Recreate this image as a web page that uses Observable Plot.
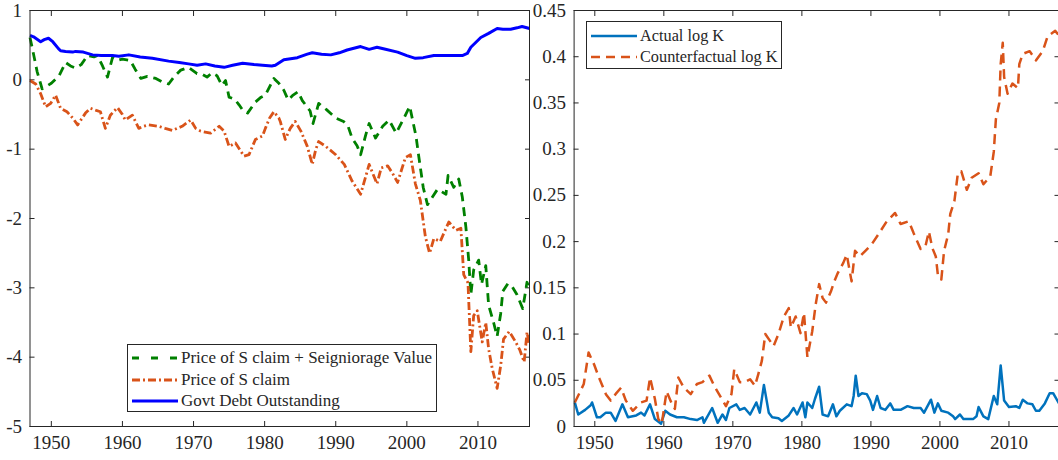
<!DOCTYPE html>
<html><head><meta charset="utf-8">
<script src="https://cdn.jsdelivr.net/npm/d3@7"></script>
<script src="https://cdn.jsdelivr.net/npm/@observablehq/plot@0.6"></script>
<style>
body{margin:0;background:#fff;}
#wrap{position:relative;width:1058px;height:460px;overflow:hidden;font-family:"Liberation Serif","Times New Roman",serif;color:#262626;background:#fff;}
.panel{position:absolute;top:0;}
.legend{position:absolute;background:#fff;border:1px solid #262626;box-sizing:border-box;font-size:17px;}
.row{position:absolute;left:0;height:22px;display:flex;align-items:center;white-space:nowrap;}
.row svg{margin-left:4px;margin-right:3px;}
</style></head><body><div id="wrap"></div>
<script>
// ---------- tick values ----------
const xTicks = [1950, 1960, 1970, 1980, 1990, 2000, 2010];
const leftYTicks = [-5, -4, -3, -2, -1, 0, 1];
const rightYTicks = [0, 0.05, 0.1, 0.15, 0.2, 0.25, 0.3, 0.35, 0.4, 0.45];

// ---------- left panel series ----------
const debtYear = [1947.0,1947.5,1948.5,1949.0,1949.6,1950.2,1951.0,1951.3,1952.0,1953.0,1953.4,1954.5,1955.8,1957.0,1958.6,1959.5,1960.9,1962.5,1964.2,1966.5,1968.0,1969.3,1970.5,1971.7,1973.0,1974.3,1975.5,1976.9,1978.5,1979.7,1981.0,1981.5,1982.7,1984.6,1986.0,1986.7,1988.0,1989.3,1990.5,1991.6,1993.5,1994.7,1995.8,1997.0,1998.7,2000.0,2001.2,2002.3,2003.8,2005.0,2006.2,2007.8,2008.5,2009.0,2010.4,2011.5,2012.7,2013.5,2014.6,2015.5,2016.2,2017.25];
const debtVal  = [0.64,0.62,0.55,0.58,0.60,0.55,0.45,0.42,0.41,0.40,0.41,0.40,0.36,0.35,0.35,0.34,0.36,0.33,0.31,0.27,0.25,0.23,0.21,0.23,0.20,0.18,0.21,0.24,0.22,0.21,0.20,0.21,0.29,0.32,0.37,0.39,0.37,0.36,0.39,0.43,0.48,0.44,0.47,0.44,0.40,0.35,0.31,0.32,0.35,0.35,0.35,0.35,0.38,0.47,0.61,0.67,0.74,0.73,0.73,0.75,0.77,0.74];

const seigYear = [1947.0,1947.5,1948.0,1948.7,1949.2,1950.0,1951.1,1952.0,1952.7,1953.4,1954.2,1955.1,1956.0,1956.5,1957.2,1957.9,1958.6,1959.3,1960.0,1961.1,1961.8,1962.6,1963.5,1964.7,1965.6,1966.5,1967.3,1968.2,1969.3,1970.5,1971.2,1971.9,1972.6,1973.3,1974.0,1974.5,1975.0,1975.8,1976.4,1977.0,1977.6,1978.7,1979.5,1980.1,1980.8,1981.3,1982.0,1982.7,1983.3,1984.0,1984.7,1985.3,1985.9,1986.4,1986.8,1987.6,1988.7,1990.0,1991.1,1991.7,1992.3,1993.0,1993.5,1994.2,1994.7,1995.6,1996.6,1997.5,1998.5,1999.7,2000.4,2001.3,2001.6,2002.3,2002.9,2003.6,2004.3,2005.5,2005.8,2006.6,2007.3,2007.8,2008.3,2008.7,2009.0,2009.4,2010.1,2010.5,2011.1,2011.5,2012.2,2012.7,2013.2,2013.5,2014.2,2014.8,2015.5,2016.3,2016.9,2017.25];
const seigVal  = [0.61,0.37,0.12,-0.13,-0.10,-0.05,0.06,0.25,0.20,0.17,0.22,0.35,0.33,0.35,0.20,0.04,0.32,0.28,0.30,0.28,0.15,0.02,0.05,0.02,-0.03,-0.06,0.05,0.14,0.18,0.09,0.08,0.04,0.10,0.06,-0.08,-0.01,-0.25,-0.28,-0.36,-0.45,-0.48,-0.32,-0.25,-0.22,-0.08,0.02,-0.05,-0.15,-0.29,-0.22,-0.17,-0.30,-0.38,-0.45,-0.63,-0.34,-0.43,-0.55,-0.60,-0.66,-0.84,-0.95,-1.08,-0.80,-0.63,-0.84,-0.67,-0.58,-0.77,-0.53,-0.38,-0.82,-1.05,-1.55,-1.80,-1.69,-1.58,-1.65,-1.38,-1.55,-1.43,-1.69,-2.12,-2.60,-3.10,-2.74,-2.60,-2.95,-2.68,-3.25,-3.50,-3.70,-3.37,-3.05,-2.94,-2.98,-3.10,-3.30,-2.92,-3.02];

const sclaimYear = [1947.0,1947.8,1948.5,1949.2,1949.9,1950.6,1951.3,1952.2,1953.0,1953.7,1954.8,1955.5,1956.3,1956.9,1957.6,1958.3,1959.3,1960.0,1960.4,1961.4,1962.3,1963.0,1963.7,1965.1,1966.0,1967.0,1968.4,1969.6,1970.3,1971.0,1972.4,1973.0,1973.6,1974.3,1975.0,1975.9,1977.1,1977.8,1978.7,1979.7,1980.1,1980.7,1981.3,1982.0,1982.2,1982.9,1983.6,1984.3,1985.1,1986.0,1986.7,1987.2,1987.6,1988.6,1990.0,1991.2,1992.3,1993.5,1994.7,1995.8,1996.4,1997.3,1998.0,1998.7,1999.8,2000.5,2001.2,2001.9,2002.6,2003.2,2003.8,2004.7,2005.9,2006.9,2007.6,2008.0,2008.6,2009.0,2009.4,2009.9,2010.6,2011.1,2011.5,2012.0,2012.7,2013.2,2013.6,2014.4,2015.3,2015.9,2016.5,2016.9,2017.25];
const sclaimVal  = [-0.01,-0.06,-0.20,-0.39,-0.34,-0.22,-0.41,-0.46,-0.55,-0.65,-0.48,-0.41,-0.44,-0.46,-0.70,-0.51,-0.40,-0.50,-0.58,-0.51,-0.70,-0.67,-0.65,-0.67,-0.70,-0.73,-0.67,-0.58,-0.70,-0.74,-0.77,-0.72,-0.67,-0.74,-0.96,-0.91,-1.10,-1.08,-0.86,-0.81,-0.70,-0.55,-0.46,-0.55,-0.60,-0.86,-0.70,-0.60,-0.74,-0.96,-1.22,-1.00,-0.89,-0.96,-1.08,-1.22,-1.46,-1.65,-1.22,-1.50,-1.27,-1.24,-1.35,-1.48,-1.12,-1.08,-1.50,-1.74,-2.26,-2.50,-2.29,-2.33,-2.05,-2.17,-2.14,-2.81,-2.93,-3.92,-3.40,-3.33,-3.78,-3.50,-3.88,-4.16,-4.45,-4.12,-3.74,-3.63,-3.78,-3.90,-4.07,-3.64,-3.83];

// ---------- right panel series ----------
const actualYear = [1947.1,1947.6,1948.6,1949.4,1949.6,1950.3,1950.8,1951.6,1952.3,1953.0,1954.0,1954.8,1956.0,1956.7,1957.2,1958.0,1958.7,1959.6,1960.2,1960.9,1961.9,1962.9,1963.9,1964.8,1965.6,1965.8,1967.0,1967.8,1968.5,1969.0,1969.5,1970.5,1971.0,1971.7,1972.5,1973.4,1973.9,1974.5,1975.2,1975.7,1976.6,1977.1,1978.1,1978.8,1979.3,1980.1,1980.5,1980.8,1981.5,1981.9,1982.5,1983.0,1983.8,1984.5,1985.0,1985.5,1986.5,1987.2,1987.5,1987.8,1988.2,1988.7,1989.4,1989.9,1990.3,1990.9,1991.4,1992.1,1992.8,1993.3,1994.3,1995.3,1996.2,1997.2,1997.7,1998.7,1999.2,1999.7,2000.2,2001.2,2001.9,2002.2,2002.9,2003.4,2004.1,2004.8,2005.3,2005.6,2006.3,2007.0,2007.8,2008.3,2008.8,2009.3,2010.0,2011.0,2011.5,2012.0,2012.7,2013.4,2013.9,2014.4,2015.2,2015.9,2016.4,2017.25];
const actualVal  = [0.026,0.013,0.018,0.023,0.026,0.010,0.010,0.015,0.015,0.006,0.024,0.010,0.012,0.015,0.012,0.024,0.008,0.003,0.017,0.013,0.010,0.010,0.008,0.007,0.010,0.004,0.020,0.004,0.013,0.007,0.020,0.024,0.018,0.020,0.013,0.026,0.015,0.045,0.015,0.010,0.009,0.006,0.012,0.020,0.013,0.026,0.010,0.026,0.020,0.030,0.043,0.013,0.011,0.024,0.011,0.017,0.024,0.022,0.033,0.055,0.033,0.036,0.035,0.028,0.018,0.033,0.020,0.018,0.025,0.018,0.018,0.022,0.020,0.020,0.015,0.029,0.015,0.025,0.017,0.015,0.011,0.008,0.013,0.008,0.008,0.008,0.011,0.021,0.011,0.008,0.033,0.024,0.066,0.028,0.021,0.022,0.020,0.029,0.025,0.024,0.017,0.017,0.025,0.036,0.036,0.025];

const counterYear = [1947.1,1947.9,1948.4,1949.1,1949.9,1950.6,1951.6,1952.3,1953.0,1953.8,1954.5,1955.5,1956.7,1957.5,1958.0,1958.7,1959.2,1959.7,1960.4,1961.2,1961.6,1962.1,1962.9,1963.9,1964.8,1965.6,1966.6,1967.3,1968.3,1969.0,1969.8,1970.2,1971.0,1971.7,1972.5,1973.2,1973.7,1974.2,1974.7,1975.9,1976.6,1977.4,1978.1,1978.4,1979.1,1979.8,1980.3,1980.8,1981.5,1982.0,1982.5,1983.0,1983.5,1984.2,1984.7,1985.2,1986.0,1986.5,1987.2,1987.7,1988.4,1989.2,1990.1,1991.1,1992.3,1993.5,1994.3,1995.5,1996.2,1997.2,1997.9,1998.4,1998.9,1999.4,1999.7,2000.2,2000.6,2001.2,2001.5,2002.1,2002.6,2003.1,2003.9,2004.6,2005.6,2006.3,2007.1,2007.3,2007.8,2008.1,2008.6,2008.8,2009.1,2009.3,2009.8,2010.5,2011.3,2011.5,2012.0,2013.0,2013.9,2014.9,2015.6,2016.7,2017.25];
const counterVal  = [0.026,0.038,0.046,0.080,0.067,0.053,0.035,0.028,0.035,0.042,0.028,0.017,0.026,0.028,0.053,0.030,0.008,0.003,0.038,0.024,0.019,0.053,0.042,0.035,0.046,0.048,0.055,0.044,0.031,0.022,0.035,0.062,0.048,0.048,0.051,0.044,0.057,0.071,0.100,0.087,0.100,0.119,0.128,0.107,0.119,0.101,0.123,0.075,0.103,0.132,0.154,0.139,0.134,0.146,0.157,0.166,0.177,0.186,0.157,0.190,0.184,0.190,0.197,0.208,0.222,0.231,0.219,0.222,0.209,0.192,0.195,0.211,0.193,0.184,0.164,0.159,0.190,0.208,0.230,0.244,0.274,0.276,0.256,0.269,0.274,0.262,0.269,0.271,0.297,0.332,0.350,0.392,0.415,0.378,0.360,0.371,0.366,0.392,0.403,0.406,0.396,0.406,0.422,0.428,0.423];

// ---------- series definitions ----------
const leftSeries = [
  {name: "Price of S claim + Seigniorage Value", x: seigYear, y: seigVal, color: "#008000", dash: "9,6", legendDash: "7,12", width: 2.8},
  {name: "Price of S claim", x: sclaimYear, y: sclaimVal, color: "#D95319", dash: "8,3,2,3", legendDash: "8,3,2,3", width: 2.8},
  {name: "Govt Debt Outstanding", x: debtYear, y: debtVal, color: "#0000FF", dash: null, legendDash: null, width: 3}
];
const rightSeries = [
  {name: "Actual log K", x: actualYear, y: actualVal, color: "#0072BD", dash: null, legendDash: null, width: 2.5},
  {name: "Counterfactual log K", x: counterYear, y: counterVal, color: "#D95319", dash: "10,6", legendDash: "9,6", width: 2.5}
];

const ink = "#262626";
const serif = '"Liberation Serif", "Times New Roman", serif';
const fmtNum = d => String(+d.toFixed(2));

function panel({series, yDomain, yTicks, width, marginLeft, marginRight}) {
  const rows = series.flatMap(s => s.x.map((x, i) => ({year: x, value: s.y[i], key: s.name})));
  return Plot.plot({
    width, height: 460,
    marginTop: 10, marginBottom: 34, marginLeft, marginRight,
    x: {domain: [1947, 2017.25]},
    y: {domain: yDomain},
    style: {fontFamily: serif, fontSize: "19px", color: ink, background: "white", overflow: "visible"},
    marks: [
      Plot.axisX({ticks: xTicks, tickSize: 0, tickPadding: 9, tickFormat: d => String(d), label: null, fill: ink, fontSize: 19, fontFamily: serif}),
      Plot.axisX({ticks: xTicks, anchor: "bottom", tickSize: 5, dy: -5, text: null, label: null, stroke: ink}),
      Plot.axisX({ticks: xTicks, anchor: "top", tickSize: 5, dy: 5, text: null, label: null, stroke: ink}),
      Plot.axisY({ticks: yTicks, tickSize: 0, tickPadding: 8, tickFormat: fmtNum, label: null, fill: ink, fontSize: 19, fontFamily: serif}),
      Plot.axisY({ticks: yTicks, anchor: "left", tickSize: 5, dx: 5, text: null, label: null, stroke: ink}),
      Plot.axisY({ticks: yTicks, anchor: "right", tickSize: 5, dx: -5, text: null, label: null, stroke: ink}),
      ...series.map(s => Plot.line(rows.filter(r => r.key === s.name), {
        x: "year", y: "value", stroke: s.color, strokeWidth: s.width,
        strokeDasharray: s.dash, strokeLinejoin: "round", strokeLinecap: "butt"
      })),
      Plot.frame({stroke: ink, strokeWidth: 1})
    ]
  });
}

function legend(series, box, rowYs, fontSize) {
  const div = document.createElement("div");
  div.className = "legend";
  Object.assign(div.style, {left: box.left + "px", top: box.top + "px", width: box.width + "px", height: box.height + "px", fontSize: fontSize + "px"});
  series.forEach((s, i) => {
    const row = document.createElement("div");
    row.className = "row";
    row.style.top = (rowYs[i] - 11) + "px";
    const svg = d3.create("svg").attr("width", 46).attr("height", 10);
    svg.append("line").attr("x1", 0).attr("x2", 46).attr("y1", 5).attr("y2", 5)
      .attr("stroke", s.color).attr("stroke-width", s.width)
      .attr("stroke-dasharray", s.legendDash);
    row.appendChild(svg.node());
    const span = document.createElement("span");
    span.textContent = s.name;
    row.appendChild(span);
    div.appendChild(row);
  });
  return div;
}

const wrap = document.getElementById("wrap");

const left = panel({series: leftSeries, yDomain: [-5, 1], yTicks: leftYTicks, width: 530, marginLeft: 29.5, marginRight: 1});
left.classList.add("panel");
left.style.left = "0px";
wrap.appendChild(left);

const right = panel({series: rightSeries, yDomain: [0, 0.45], yTicks: rightYTicks, width: 530, marginLeft: 43.6, marginRight: 1.5});
right.classList.add("panel");
right.style.left = "530px";
wrap.appendChild(right);

wrap.appendChild(legend(leftSeries, {left: 127, top: 344, width: 310, height: 68}, [12.5, 34.5, 56], 17));
wrap.appendChild(legend(rightSeries, {left: 586, top: 21, width: 196, height: 48}, [13.5, 34.5], 16.3));
</script></body></html>
